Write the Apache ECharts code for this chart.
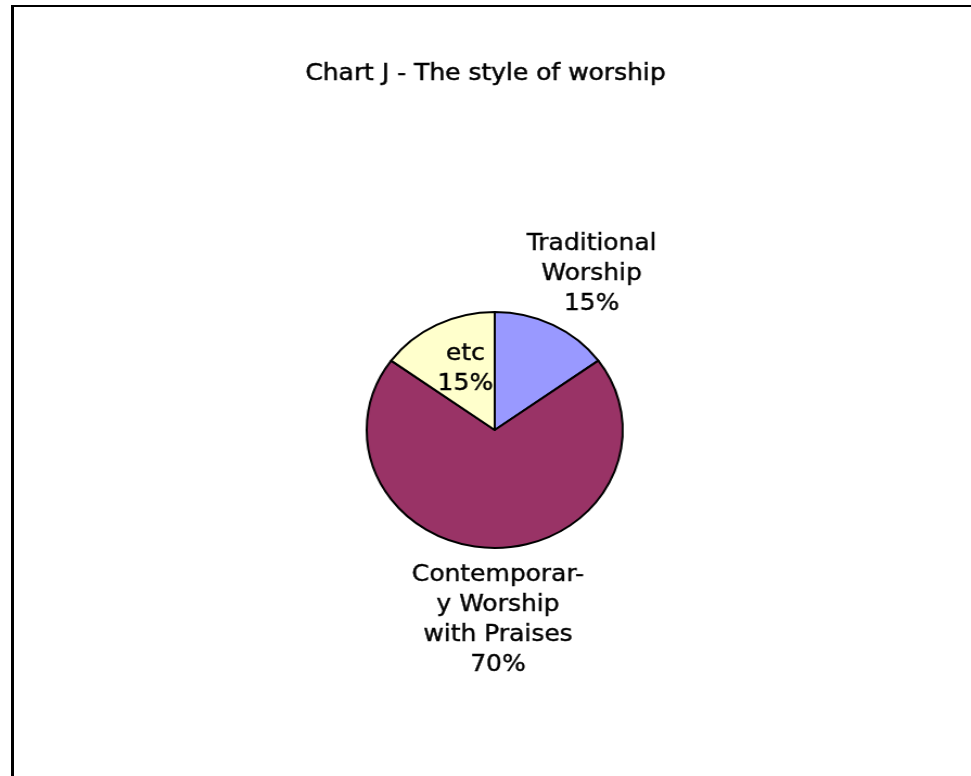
<!DOCTYPE html>
<html>
<head>
<meta charset="utf-8">
<script src="https://cdn.jsdelivr.net/npm/echarts@6/dist/echarts.min.js"></script>
<style>
  html, body { margin: 0; padding: 0; background: #fff; }
  #wrap { position: relative; width: 971px; height: 776px; overflow: hidden; background: #fff; }
  #chart { position: absolute; left: 0; top: 0; width: 895px; height: 776px; transform: scaleX(1.08492); transform-origin: 0 0; }
  .frameTop { position: absolute; left: 11px; top: 5px; width: 960px; height: 2px; background: #000; }
  .frameLeft { position: absolute; left: 11px; top: 5px; width: 3px; height: 771px; background: #000; }
</style>
</head>
<body>
<div id="wrap">
  <div id="chart"></div>
  <div class="frameTop"></div>
  <div class="frameLeft"></div>
</div>
<script>
// ---- data ----
const titleText = 'Chart J - The style of worship';
const categories = ['Traditional Worship', 'Contemporary Worship with Praises', 'etc'];
const labelTexts = ['Traditional\nWorship', 'Contemporar-\ny Worship\nwith Praises', 'etc'];
const values = [15, 70, 15];
const colors = ['#9999FF', '#993366', '#FFFFCC'];
const labelPositions = ['outside', 'outside', 'inside'];

// ---- layout ----
const CX = 456, CY = 430, R = 118, GAP = 12, START = 90;
const FONT = 'DejaVu Sans';
const total = values.reduce((a, b) => a + b, 0);

function midAngle(i) {
  let before = 0;
  for (let k = 0; k < i; k++) before += values[k];
  return (START - (before + values[i] / 2) / total * 360) * Math.PI / 180;
}

const chart = echarts.init(document.getElementById('chart'), null, { renderer: 'canvas' });
chart.setOption({
  backgroundColor: 'transparent',
  animation: false,
  title: {
    text: titleText,
    left: 'center',
    top: 58,
    textStyle: { fontFamily: FONT, fontSize: 23, fontWeight: 'normal', color: '#000',
                 textBorderColor: '#000', textBorderWidth: 0.5 }
  },
  series: [{
    type: 'pie',
    center: [CX, CY],
    radius: R,
    startAngle: START,
    clockwise: true,
    avoidLabelOverlap: false,
    silent: true,
    itemStyle: { borderColor: '#000', borderWidth: 2 },
    labelLine: { show: false },
    label: {
      color: '#000',
      fontFamily: FONT,
      fontSize: 23,
      lineHeight: 30,
      align: 'center',
      textBorderColor: '#000',
      textBorderWidth: 0.4,
      formatter: p => labelTexts[p.dataIndex] + '\n' + p.percent + '%'
    },
    labelLayout: function (params) {
      const i = params.dataIndex;
      const t = midAngle(i);
      const c = Math.cos(t), s = Math.sin(t);
      const w = params.labelRect.width, h = params.labelRect.height;
      if (labelPositions[i] === 'inside') {
        return { x: CX + c * R * 0.58 + 4, y: CY - s * R * 0.58, align: 'center', verticalAlign: 'middle' };
      }
      const px = CX + c * (R + GAP), py = CY - s * (R + GAP);
      return { x: px + c * w / 2 + 3, y: py - s * h / 2, align: 'center', verticalAlign: 'middle' };
    },
    data: categories.map((name, i) => ({
      name: name,
      value: values[i],
      itemStyle: { color: colors[i] },
      label: { position: labelPositions[i] }
    }))
  }]
});
</script>
</body>
</html>
